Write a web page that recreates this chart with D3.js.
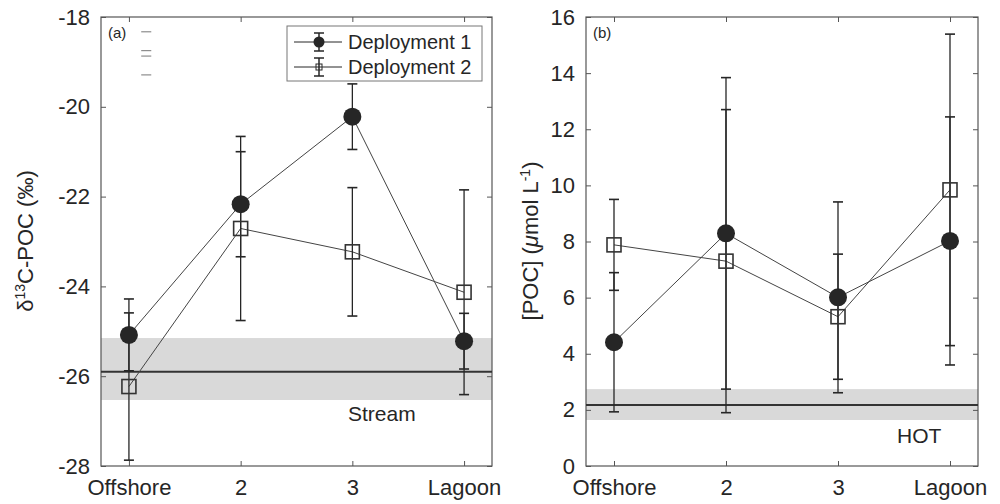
<!DOCTYPE html>
<html>
<head>
<meta charset="utf-8">
<script src="https://cdn.jsdelivr.net/npm/d3@7"></script>
<style>
  body { margin: 0; background: #fff; }
  svg { font-family: "Liberation Sans", Arial, sans-serif; }
</style>
</head>
<body>
<div id="chart"></div>
<script>
// Sites along the transect (x positions 1..4)
const sites = ["Offshore", "2", "3", "Lagoon"];
const sitePos = [1, 2, 3, 4];

// (a) d13C-POC, per mil
const d13cDep1 = [-25.08, -22.17, -20.22, -25.22];
const d13cDep1Err = [0.80, 1.17, 0.73, 0.62];
const d13cDep2 = [-26.23, -22.71, -23.23, -24.13];
const d13cDep2Err = [1.64, 2.05, 1.43, 2.28];
const streamBand = [-26.53, -25.15];
const streamMean = -25.9;
const d13cTicks = [-28, -26, -24, -22, -20, -18];
// stray grey dashes near the (a) label
const strayDashes = [-18.33, -18.75, -18.87, -19.29];

// (b) [POC], umol/L
const pocDep1 = [4.41, 8.29, 6.01, 8.02];
const pocDep1Err = [2.48, 5.55, 3.40, 4.42];
const pocDep2 = [7.88, 7.30, 5.32, 9.84];
const pocDep2Err = [1.62, 5.40, 2.23, 5.55];
const hotBand = [1.64, 2.74];
const hotMean = 2.17;
const pocTicks = [0, 2, 4, 6, 8, 10, 12, 14, 16];

const ink = "#262626";
const axisCol = "#555";

const svg = d3.select("#chart")
    .append("svg")
    .attr("width", 1000)
    .attr("height", 504);

function drawPanel(opt) {
    const x = d3.scaleLinear().domain([0.75, 4.25]).range([opt.left, opt.right]);
    const y = d3.scaleLinear().domain(opt.domain).range([466, 17]);
    const g = svg.append("g");

    // reference band
    g.append("rect")
        .attr("x", x(0.75))
        .attr("width", x(4.25) - x(0.75))
        .attr("y", y(opt.band[1]))
        .attr("height", y(opt.band[0]) - y(opt.band[1]))
        .attr("fill", "#d9d9d9");

    // axes box with inward ticks
    const ax = g.append("g");
    ax.append("g")
        .attr("transform", `translate(${opt.left},0)`)
        .call(d3.axisLeft(y).tickValues(opt.ticks).tickSize(-5).tickPadding(11).tickFormat(d => String(d)))
        .call(s => s.select(".domain").remove());
    ax.append("g")
        .attr("transform", `translate(${opt.right},0)`)
        .call(d3.axisRight(y).tickValues(opt.ticks).tickSize(-5).tickFormat(""))
        .call(s => s.select(".domain").remove());
    ax.append("g")
        .attr("transform", "translate(0,466)")
        .call(d3.axisBottom(x).tickValues(sitePos).tickSize(-5).tickPadding(13).tickFormat((d, i) => sites[i]))
        .call(s => s.select(".domain").remove());
    ax.append("g")
        .attr("transform", "translate(0,17)")
        .call(d3.axisTop(x).tickValues(sitePos).tickSize(-5).tickFormat(""))
        .call(s => s.select(".domain").remove());
    ax.selectAll("g").attr("font-size", null).attr("font-family", null);
    ax.selectAll("text").attr("fill", ink).attr("font-size", 22);
    ax.selectAll(".tick line").attr("stroke", axisCol);
    g.append("rect")
        .attr("x", opt.left).attr("y", 17)
        .attr("width", opt.right - opt.left).attr("height", 466 - 17)
        .attr("fill", "none").attr("stroke", axisCol).attr("stroke-width", 1.2);

    // reference mean line
    g.append("line")
        .attr("x1", x(0.75)).attr("x2", x(4.25))
        .attr("y1", y(opt.mean)).attr("y2", y(opt.mean))
        .attr("stroke", "#333").attr("stroke-width", 2);

    const series = [
        { v: opt.dep1, e: opt.dep1Err, shape: "circle" },
        { v: opt.dep2, e: opt.dep2Err, shape: "square" }
    ];
    const line = d3.line().x((d, i) => x(sitePos[i])).y(d => y(d));

    series.forEach(s => {
        g.append("path")
            .attr("d", line(s.v))
            .attr("fill", "none")
            .attr("stroke", "#444")
            .attr("stroke-width", 1);
    });

    series.forEach(s => {
        const eb = g.append("g").attr("stroke", ink).attr("stroke-width", 1.6);
        s.v.forEach((v, i) => {
            const cx = x(sitePos[i]);
            eb.append("line").attr("x1", cx).attr("x2", cx)
                .attr("y1", y(v - s.e[i])).attr("y2", y(v + s.e[i]))
                .attr("stroke-width", 1.3);
            [v - s.e[i], v + s.e[i]].forEach(c => {
                eb.append("line").attr("x1", cx - 5).attr("x2", cx + 5)
                    .attr("y1", y(c)).attr("y2", y(c));
            });
        });
    });

    series.forEach(s => {
        s.v.forEach((v, i) => {
            if (s.shape === "circle") {
                g.append("circle")
                    .attr("cx", x(sitePos[i])).attr("cy", y(v)).attr("r", 9)
                    .attr("fill", ink);
            } else {
                g.append("rect")
                    .attr("x", x(sitePos[i]) - 7).attr("y", y(v) - 7)
                    .attr("width", 14).attr("height", 14)
                    .attr("fill", "none").attr("stroke", "#333").attr("stroke-width", 1.6);
            }
        });
    });

    // panel letter + reference label
    g.append("text")
        .attr("x", opt.left + 7).attr("y", opt.letterY)
        .attr("font-size", 15).attr("fill", ink)
        .text(opt.letter);
    g.append("text")
        .attr("x", opt.refX).attr("y", opt.refY)
        .attr("font-size", 21).attr("fill", ink)
        .text(opt.refLabel);

    return { g, x, y };
}

const a = drawPanel({
    left: 101, right: 492, domain: [-28, -18], ticks: d13cTicks,
    band: streamBand, mean: streamMean,
    dep1: d13cDep1, dep1Err: d13cDep1Err, dep2: d13cDep2, dep2Err: d13cDep2Err,
    letter: "(a)", letterY: 38, refLabel: "Stream", refX: 348, refY: 421
});

// stray dashes
strayDashes.forEach(v => {
    a.g.append("line")
        .attr("x1", a.x(1.11)).attr("x2", a.x(1.2))
        .attr("y1", a.y(v)).attr("y2", a.y(v))
        .attr("stroke", "#777").attr("stroke-width", 1);
});

// legend
const leg = a.g.append("g").attr("transform", "translate(287,26)");
leg.append("rect").attr("width", 195).attr("height", 55)
    .attr("fill", "#fff").attr("stroke", "#777").attr("stroke-width", 1);
[
    { label: "Deployment 1", shape: "circle", yy: 16 },
    { label: "Deployment 2", shape: "square", yy: 41 }
].forEach(d => {
    leg.append("line").attr("x1", 7).attr("x2", 55).attr("y1", d.yy).attr("y2", d.yy)
        .attr("stroke", ink).attr("stroke-width", 1);
    leg.append("line").attr("x1", 32).attr("x2", 32).attr("y1", d.yy - 9).attr("y2", d.yy + 9)
        .attr("stroke", ink).attr("stroke-width", 1.5);
    [d.yy - 9, d.yy + 9].forEach(c => leg.append("line")
        .attr("x1", 27).attr("x2", 37).attr("y1", c).attr("y2", c)
        .attr("stroke", ink).attr("stroke-width", 1.5));
    if (d.shape === "circle") {
        leg.append("circle").attr("cx", 32).attr("cy", d.yy).attr("r", 5.5).attr("fill", ink);
    } else {
        leg.append("rect").attr("x", 29).attr("y", d.yy - 3).attr("width", 6).attr("height", 6)
            .attr("fill", "none").attr("stroke", ink).attr("stroke-width", 1);
    }
    leg.append("text").attr("x", 61).attr("y", d.yy + 7)
        .attr("font-size", 20).attr("fill", ink).text(d.label);
});

drawPanel({
    left: 586, right: 978, domain: [0, 16], ticks: pocTicks,
    band: hotBand, mean: hotMean,
    dep1: pocDep1, dep1Err: pocDep1Err, dep2: pocDep2, dep2Err: pocDep2Err,
    letter: "(b)", letterY: 38, refLabel: "HOT", refX: 897, refY: 443
});

// y-axis titles
const yl = svg.append("text")
    .attr("transform", "translate(33,241) rotate(-90)")
    .attr("text-anchor", "middle").attr("font-size", 22).attr("fill", ink);
yl.append("tspan").text("δ");
yl.append("tspan").attr("font-size", 14).attr("dy", -8).text("13");
yl.append("tspan").attr("dy", 8).text("C-POC (‰)");

const yr = svg.append("text")
    .attr("transform", "translate(538,241) rotate(-90)")
    .attr("text-anchor", "middle").attr("font-size", 22).attr("fill", ink);
yr.append("tspan").text("[POC] (");
yr.append("tspan").attr("font-style", "italic").text("μ");
yr.append("tspan").text("mol L");
yr.append("tspan").attr("font-size", 14).attr("dy", -8).text("-1");
yr.append("tspan").attr("dy", 8).text(")");
</script>
</body>
</html>
